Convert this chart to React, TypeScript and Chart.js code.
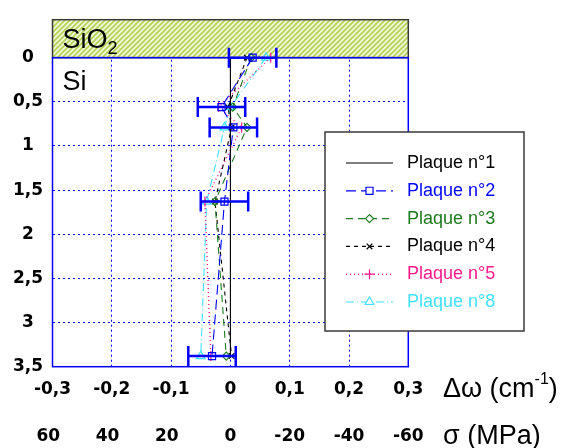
import React, { useEffect, useRef } from 'react';
import { Chart, registerables } from 'chart.js';
import { drawPoint } from 'chart.js/helpers';

Chart.register(...registerables);

// ---- data ----
const depths = [0, 0.56, 0.79, 1.63, 3.38];
const seriesLabels = ['Plaque n°1', 'Plaque n°2', 'Plaque n°3', 'Plaque n°4', 'Plaque n°5', 'Plaque n°8'];
const plaque1 = [0, 0, 0, 0, 0];
const plaque2 = [0.0375, -0.015, 0.005, -0.01, -0.031];
const plaque3 = [0.035, 0.004, 0.028, -0.026, -0.007];
const plaque4 = [0.028, -0.004, 0.002, -0.026, 0.002];
const plaque5 = [0.068, -0.02, 0.019, -0.043, -0.033];
const plaque8 = [0.06, 0.0, -0.01, -0.04, -0.05];
const plaque2Err = [0.04, 0.04, 0.04, 0.04, 0.04];
const depthTicks = [0, 0.5, 1, 1.5, 2, 2.5, 3, 3.5];
const shiftTicks = [-0.3, -0.2, -0.1, 0, 0.1, 0.2, 0.3];
const stressTicks = [60, 40, 20, 0, -20, -40, -60];
const oxideLabel = 'SiO';
const oxideSub = '2';
const siliconLabel = 'Si';
const shiftTitle = 'Δω (cm';
const shiftTitleSup = '-1';
const stressTitle = 'σ (MPa)';

const seriesValues = [plaque1, plaque2, plaque3, plaque4, plaque5, plaque8];
const seriesColors = ['#000000', '#0000ff', '#1e7b1e', '#000000', '#ff1a8c', '#40e0ff'];
const seriesDash = [[], [10, 5], [7, 5], [4, 4], [1, 3], [8, 3, 1, 3]];
const seriesPoint = [false, 'rect', 'rectRot', 'crossRot', 'cross', 'triangle'];
const seriesRadius = [0, 5, 4, 4, 5, 5];

const fmt = (v: number) => String(v).replace('.', ',');

function makeHatch(): CanvasPattern | string {
  const c = document.createElement('canvas');
  c.width = 5;
  c.height = 5;
  const g = c.getContext('2d');
  if (!g) return '#dfeaa8';
  g.fillStyle = '#f1f7d8';
  g.fillRect(0, 0, 5, 5);
  g.strokeStyle = '#b3d255';
  g.lineWidth = 1.6;
  g.beginPath();
  g.moveTo(-1, 6);
  g.lineTo(6, -1);
  g.moveTo(-1, 1);
  g.lineTo(1, -1);
  g.moveTo(4, 6);
  g.lineTo(6, 4);
  g.stroke();
  const p = g.createPattern(c, 'repeat');
  return p || '#dfeaa8';
}

const decorPlugin = {
  id: 'decor',
  beforeDatasetsDraw(chart: any) {
    const { ctx, chartArea } = chart;
    const ys = chart.scales.y;
    const y0 = ys.getPixelForValue(0);
    const { left, right, top, bottom } = chartArea;
    ctx.save();
    // oxide band
    ctx.fillStyle = makeHatch();
    ctx.fillRect(left, top, right - left, y0 - top);
    ctx.strokeStyle = '#3a3a3a';
    ctx.lineWidth = 1.5;
    ctx.strokeRect(left, top, right - left, y0 - top);
    // silicon frame
    ctx.strokeStyle = '#0000ff';
    ctx.lineWidth = 1.5;
    ctx.strokeRect(left, y0, right - left, bottom - y0);
    // labels
    ctx.fillStyle = '#000';
    ctx.textBaseline = 'alphabetic';
    ctx.textAlign = 'left';
    ctx.font = '27px "Liberation Sans", Arial, sans-serif';
    ctx.fillText(oxideLabel, left + 10, y0 - 10);
    const w = ctx.measureText(oxideLabel).width;
    ctx.font = '18px "Liberation Sans", Arial, sans-serif';
    ctx.fillText(oxideSub, left + 10 + w, y0 - 4);
    ctx.font = '27px "Liberation Sans", Arial, sans-serif';
    ctx.fillText(siliconLabel, left + 10, y0 + 32);
    ctx.restore();
  },
  afterDatasetsDraw(chart: any) {
    const { ctx } = chart;
    const xs = chart.scales.x;
    const ys = chart.scales.y;
    ctx.save();
    // error bars on Plaque n°2
    ctx.strokeStyle = '#0000ff';
    ctx.lineWidth = 2.5;
    ctx.setLineDash([]);
    plaque2.forEach((v, i) => {
      const y = ys.getPixelForValue(depths[i]);
      const xa = xs.getPixelForValue(v - plaque2Err[i]);
      const xb = xs.getPixelForValue(v + plaque2Err[i]);
      ctx.beginPath();
      ctx.moveTo(xa, y);
      ctx.lineTo(xb, y);
      ctx.moveTo(xa, y - 10);
      ctx.lineTo(xa, y + 10);
      ctx.moveTo(xb, y - 10);
      ctx.lineTo(xb, y + 10);
      ctx.stroke();
    });

    // legend
    const lx0 = 325, ly0 = 132, lx1 = 524, ly1 = 331;
    ctx.fillStyle = '#ffffff';
    ctx.fillRect(lx0, ly0, lx1 - lx0, ly1 - ly0);
    ctx.strokeStyle = '#3a3a3a';
    ctx.lineWidth = 1.5;
    ctx.strokeRect(lx0, ly0, lx1 - lx0, ly1 - ly0);
    chart.data.datasets.forEach((ds: any, i: number) => {
      const y = 163 + i * 27.8;
      ctx.save();
      ctx.strokeStyle = ds.borderColor;
      ctx.lineWidth = i === 4 ? 1.4 : 1.2;
      ctx.setLineDash(ds.borderDash || []);
      ctx.beginPath();
      ctx.moveTo(346, y);
      ctx.lineTo(393, y);
      ctx.stroke();
      ctx.setLineDash([]);
      if (ds.pointStyle) {
        ctx.fillStyle = '#ffffff';
        ctx.strokeStyle = ds.borderColor;
        ctx.lineWidth = 1.2;
        drawPoint(ctx, { pointStyle: ds.pointStyle, rotation: 0, radius: ds.pointRadius, borderWidth: 1.2 } as any, 369.5, y);
      }
      ctx.fillStyle = ds.borderColor;
      ctx.font = '18px "Liberation Sans", Arial, sans-serif';
      ctx.textAlign = 'left';
      ctx.textBaseline = 'middle';
      ctx.fillText(ds.label, 407, y);
      ctx.restore();
    });

    // axis titles
    ctx.fillStyle = '#000';
    ctx.textAlign = 'left';
    ctx.textBaseline = 'middle';
    ctx.font = '27px "Liberation Sans", Arial, sans-serif';
    const tx = 443;
    ctx.fillText(shiftTitle, tx, 390);
    let w = ctx.measureText(shiftTitle).width;
    ctx.font = '16px "Liberation Sans", Arial, sans-serif';
    ctx.fillText(shiftTitleSup, tx + w, 380);
    w += ctx.measureText(shiftTitleSup).width;
    ctx.font = '27px "Liberation Sans", Arial, sans-serif';
    ctx.fillText(')', tx + w, 390);
    ctx.fillText(stressTitle, tx, 437);
    ctx.restore();
  },
};

const tickFont = { family: '"DejaVu Sans", sans-serif', size: 17, weight: 'bold' as const };

export default function App() {
  const ref = useRef<HTMLCanvasElement | null>(null);
  useEffect(() => {
    if (!ref.current) return;
    const datasets = seriesValues.map((vals, i) => ({
      label: seriesLabels[i],
      data: vals.map((v, k) => ({ x: v, y: depths[k] })),
      showLine: true,
      borderColor: seriesColors[i],
      backgroundColor: seriesColors[i],
      borderWidth: i === 4 ? 1.4 : 1.1,
      borderDash: seriesDash[i],
      pointStyle: seriesPoint[i] as any,
      pointRadius: seriesRadius[i],
      pointBorderColor: seriesColors[i],
      pointBackgroundColor: 'rgba(0,0,0,0)',
      pointBorderWidth: 1.2,
      tension: 0,
      fill: false,
    }));
    const chart = new Chart(ref.current, {
      type: 'scatter',
      data: { datasets },
      plugins: [decorPlugin],
      options: {
        animation: false,
        responsive: false,
        events: [],
        layout: { padding: { left: 0, top: 12, right: 168.7, bottom: 0 } },
        plugins: { legend: { display: false }, tooltip: { enabled: false } },
        scales: {
          x: {
            type: 'linear',
            position: 'bottom',
            min: -0.3,
            max: 0.3,
            weight: 0,
            afterBuildTicks: (s: any) => { s.ticks = shiftTicks.map((v) => ({ value: v })); },
            afterFit: (s: any) => { s.height = 46; },
            grid: { color: '#0000ff', lineWidth: 1, drawTicks: false },
            border: { display: false, dash: [2, 3] },
            ticks: { font: tickFont, color: '#000', padding: 13, maxRotation: 0, autoSkip: false, callback: (v: any) => fmt(Number(v)) },
          },
          x2: {
            type: 'linear',
            position: 'bottom',
            min: -60,
            max: 60,
            reverse: true,
            weight: 1,
            afterBuildTicks: (s: any) => { s.ticks = stressTicks.map((v) => ({ value: v })); },
            afterFit: (s: any) => { s.height = 35.3; },
            grid: { display: false, drawTicks: false },
            border: { display: false },
            ticks: {
              font: tickFont, color: '#000', padding: 14, maxRotation: 0, autoSkip: false,
              callback: (v: any) => (Number(v) > 0 ? fmt(Number(v)) + '\u2002' : fmt(Number(v))),
            },
          },
          y: {
            type: 'linear',
            position: 'left',
            reverse: true,
            min: -0.43,
            max: 3.5,
            afterBuildTicks: (s: any) => { s.ticks = depthTicks.map((v) => ({ value: v })); },
            afterFit: (s: any) => { s.width = 52.5; },
            grid: { color: '#0000ff', lineWidth: 1, drawTicks: false },
            border: { display: false, dash: [2, 3] },
            ticks: { font: tickFont, color: '#000', padding: 9.5, crossAlign: 'center', autoSkip: false, callback: (v: any) => fmt(Number(v)) },
          },
        },
      } as any,
    });
    return () => chart.destroy();
  }, []);
  return (
    <div style={{ position: 'fixed', left: 0, top: 0, width: 577, height: 448, background: '#fff' }}>
      <canvas ref={ref} width={577} height={448} style={{ display: 'block', width: 577, height: 448 }} />
    </div>
  );
}
